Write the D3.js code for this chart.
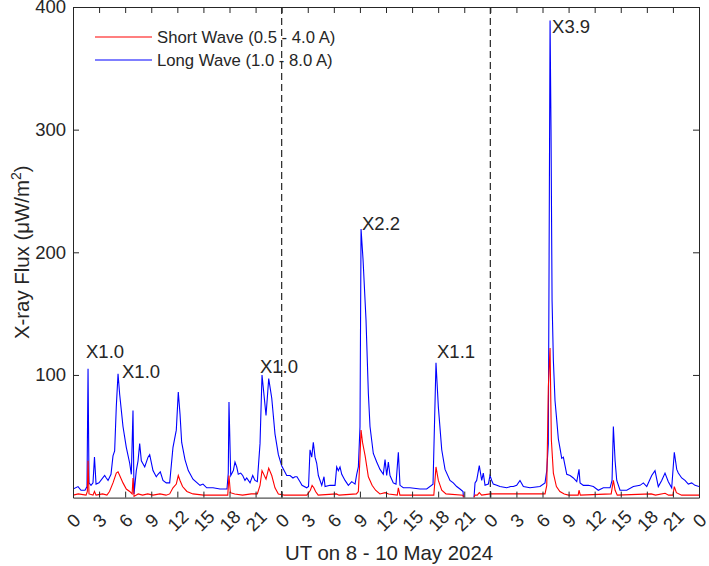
<!DOCTYPE html>
<html lang="en">
<head>
<meta charset="UTF-8">
<title>X-ray Flux, 8 - 10 May 2024</title>
<script src="https://d3js.org/d3.v7.min.js"></script>
<style>
  body { margin: 0; background: #fff; }
  svg text { font-family: "Liberation Sans", Arial, sans-serif; fill: #262626; }
</style>
</head>
<body>
<svg width="709" height="566"></svg>
<script>

// long wave channel (1.0 - 8.0 A), hours since 8 May 00 UT
const longHours = [
  0, 0.58, 0.92, 1.38, 1.61, 1.73, 1.84, 2.07, 2.30, 2.47,
  2.65, 2.99, 3.64, 3.83, 4.03, 4.37, 4.60, 4.79, 4.98, 5.18,
  5.37, 5.75, 6.13, 6.52, 6.71, 6.90, 7.02, 7.28, 7.48, 7.67,
  7.86, 8.25, 8.63, 8.82, 9.20, 9.58, 9.78, 10.04, 10.35, 10.73,
  11.12, 11.50, 11.88, 12.11, 12.31, 12.50, 12.88, 13.26, 13.80, 14.61,
  14.95, 15.38, 16.10, 16.91, 17.71, 17.86, 17.94, 18.14, 18.44, 18.63,
  18.83, 19.01, 19.29, 19.52, 19.78, 19.98, 20.36, 20.67, 20.93, 21.20,
  21.51, 21.74, 22.20, 22.51, 22.86, 23.23, 23.62, 24.00, 24.58, 24.96,
  25.30, 25.53, 25.76, 26.11, 26.34, 26.88, 27.09, 27.26, 27.46, 27.64,
  27.84, 28.03, 28.22, 28.61, 28.87, 28.99, 29.56, 30.14, 30.33, 30.52,
  30.71, 30.91, 31.29, 31.67, 32.06, 32.44, 32.63, 32.82, 33.01, 33.13,
  33.36, 33.70, 33.97, 34.16, 34.54, 34.93, 35.31, 35.69, 35.89, 36.08,
  36.27, 36.46, 36.84, 37.15, 37.42, 37.61, 37.99, 38.76, 39.91, 40.68,
  41.41, 41.75, 42.02, 42.41, 42.79, 43.36, 43.74, 44.13, 44.51, 44.86,
  44.91, 45.5, 46.12, 46.24, 46.43, 46.73, 47.01, 47.19, 47.39, 47.77,
  47.96, 48.16, 48.34, 48.74, 49.11, 49.88, 50.34, 50.65, 51.03, 51.41,
  51.80, 52.56, 53.71, 54.29, 54.49, 54.67, 54.79, 54.87, 54.98, 55.10,
  55.25, 55.44, 55.64, 55.82, 56.02, 56.21, 56.40, 56.59, 56.79, 57.17,
  57.55, 57.94, 58.20, 58.32, 58.70, 59.27, 59.85, 60.42, 61.00, 61.77,
  62.00, 62.15, 62.35, 62.54, 62.92, 63.69, 64.45, 65.22, 65.60, 65.99,
  66.56, 66.94, 67.32, 67.71, 68.09, 68.47, 68.86, 69.16, 69.44, 69.62,
  70.01, 70.39, 70.77, 71.16, 71.54, 72
];
const longFlux = [
  7, 9, 6, 6, 9, 105, 12, 10, 12, 33,
  11, 12, 18, 16, 14, 19, 34, 38, 74, 101,
  84, 58, 41, 28, 19, 71, 3, 22, 30, 44,
  30, 25, 33, 35, 22, 17, 19, 21, 14, 12,
  12, 41, 55, 86, 68, 45, 31, 22, 15, 10,
  11, 8, 8, 7, 7, 20, 78, 18, 22, 29,
  25, 19, 20, 18, 14, 16, 12, 18, 14, 13,
  44, 100, 67, 97, 81, 52, 35, 26, 18, 18,
  16, 17, 17, 13, 10, 8, 9, 39, 33, 45,
  33, 28, 18, 10, 17, 9, 10, 10, 25, 22,
  25, 19, 14, 10, 13, 11, 19, 25, 58, 219,
  194, 145, 85, 58, 36, 29, 23, 19, 31, 18,
  29, 18, 12, 11, 37, 10, 8, 8, 7, 7,
  11, 110, 74, 39, 23, 14, 12, 9, 7, 5,
  0, null, 0, 12, 14, 26, 14, 20, 10, 11,
  18, 14, 11, 10, 9, 8, 9, 9, 10, 14,
  9, 8, 9, 12, 22, 44, 250, 389, 300, 161,
  112, 79, 63, 48, 40, 32, 33, 26, 19, 18,
  16, 13, 23, 12, 10, 10, 9, 6, 8, 8,
  14, 58, 30, 14, 6, 6, 9, 10, 12, 9,
  18, 22, 9, 14, 20, 13, 8, 37, 23, 20,
  16, 14, 11, 12, 10, 9
];

// short wave channel (0.5 - 4.0 A)
const shortHours = [
  0, 0.6, 1.5, 1.65, 1.73, 1.84, 2.3, 2.47, 2.65, 3.4,
  3.9, 4.2, 4.6, 4.98, 5.18, 5.37, 5.75, 6.13, 6.52, 6.8,
  6.9, 7.02, 7.5, 8.0, 8.6, 9.2, 10.0, 10.7, 11.12, 11.5,
  11.88, 12.11, 12.31, 12.6, 13.1, 13.8, 15.0, 17.8, 17.94, 18.1,
  18.6, 19.5, 20.5, 21.2, 21.51, 21.74, 22.2, 22.51, 22.86, 23.23,
  23.62, 24.3, 26.9, 27.3, 27.5, 27.7, 27.9, 28.2, 30.3, 30.6,
  32.6, 32.82, 33.0, 33.13, 33.3, 33.6, 33.97, 34.4, 34.8, 35.3,
  35.9, 36.3, 37.3, 37.42, 37.6, 41.5, 41.75, 42.02, 42.41, 42.9,
  44.86, 44.91, 45.5, 46.12, 46.24, 46.5, 46.73, 47.0, 48.0, 54.29,
  54.49, 54.67, 54.87, 55.02, 55.25, 55.6, 56.0, 56.5, 57.0, 58.1,
  58.2, 58.35, 61.9, 62.15, 62.35, 62.6, 66.5, 67.0, 68.1, 68.5,
  69.0, 69.16, 69.4, 70.0, 72
];
const shortFlux = [
  2, 3, 2, 5, 30, 3, 2, 5, 2, 3,
  2, 5, 12, 20, 21, 18, 12, 7, 5, 3,
  16, 1, 3, 2, 3, 2, 3, 2, 3, 8,
  11, 18, 14, 9, 5, 3, 2, 2, 18, 4,
  3, 2, 3, 3, 10, 22, 15, 24, 18, 8,
  3, 2, 2, 6, 10, 8, 5, 2, 3, 2,
  3, 5, 31, 55, 45, 34, 17, 10, 6, 3,
  4, 3, 2, 8, 2, 2, 25, 14, 6, 3,
  2, 0, null, 0, 2, 2, 4, 2, 3, 3,
  10, 90, 122, 47, 20, 9, 5, 3, 2, 2,
  6, 2, 3, 14, 6, 2, 3, 2, 3.5, 2,
  2, 9, 4, 2, 2
];

const tickHours = d3.range(0, 73, 3);
const tickLabels = tickHours.map(h => String(h % 24));
const fluxTicks = [100, 200, 300, 400];
const dayBreaks = [24, 48];

// flare class labels, placed at (hour, flux) of the text start
const flareLabels = ["X1.0", "X1.0", "X1.0", "X2.2", "X1.1", "X3.9"];
const flareHours  = [1.5, 5.64, 21.5, 33.24, 41.87, 55.1];
const flareFlux   = [114, 97.4, 101.5, 218, 113.7, 378.6];

const seriesNames = ["Short Wave (0.5 - 4.0 A)", "Long Wave (1.0 - 8.0 A)"];
const seriesColors = ["#ff0000", "#0000ff"];

const svg = d3.select("svg");
const plotLeft = 73, plotRight = 699, plotTop = 7, plotBottom = 497.6;

const x = d3.scaleLinear().domain([0, 72]).range([plotLeft, plotRight]);
const y = d3.scaleLinear().domain([0, 400]).range([plotBottom, plotTop]);

// lines (clipped to axes)
svg.append("clipPath").attr("id", "clip")
  .append("rect").attr("x", plotLeft).attr("y", plotTop)
  .attr("width", plotRight - plotLeft).attr("height", plotBottom - plotTop);

const line = d3.line()
  .defined(d => d.v != null)
  .x(d => x(d.h))
  .y(d => y(d.v));

const longData = longHours.map((h, i) => ({ h: h, v: longFlux[i] }));
const shortData = shortHours.map((h, i) => ({ h: h, v: shortFlux[i] }));

const plot = svg.append("g").attr("clip-path", "url(#clip)");
plot.append("path").datum(longData)
  .attr("d", line).attr("fill", "none")
  .attr("stroke", seriesColors[1]).attr("stroke-width", 1.1);
plot.append("path").datum(shortData)
  .attr("d", line).attr("fill", "none")
  .attr("stroke", seriesColors[0]).attr("stroke-width", 1.1);

// day boundaries
svg.selectAll("line.day").data(dayBreaks).enter().append("line")
  .attr("class", "day")
  .attr("x1", d => x(d)).attr("x2", d => x(d))
  .attr("y1", plotTop).attr("y2", plotBottom)
  .attr("stroke", "#262626").attr("stroke-width", 1.2)
  .attr("stroke-dasharray", "7,4");

// axes, ticks pointing inward like matlab
const axisColor = "#262626";
function styleAxis(g) {
  g.selectAll("path, line").attr("stroke", axisColor);
  g.selectAll("text").attr("fill", axisColor);
}

const xAxis = svg.append("g")
  .attr("transform", `translate(0,${plotBottom})`)
  .call(d3.axisBottom(x).tickValues(tickHours).tickSizeInner(-6).tickSizeOuter(0)
    .tickFormat((d, i) => tickLabels[i]))
  .call(styleAxis);
xAxis.selectAll("text")
  .attr("font-size", 18.5)
  .attr("text-anchor", "middle")
  .attr("dominant-baseline", "central")
  .attr("y", 0).attr("dy", null)
  .attr("transform", "translate(0,23) rotate(-45)");

svg.append("g")
  .attr("transform", `translate(0,${plotTop})`)
  .call(d3.axisTop(x).tickValues(tickHours).tickSizeInner(-6).tickSizeOuter(0).tickFormat(""))
  .call(styleAxis);

svg.append("g")
  .attr("transform", `translate(${plotLeft},0)`)
  .call(d3.axisLeft(y).tickValues(fluxTicks).tickSizeInner(-6).tickSizeOuter(0).tickPadding(7))
  .call(styleAxis)
  .selectAll("text").attr("font-size", 18.5);

svg.append("g")
  .attr("transform", `translate(${plotRight},0)`)
  .call(d3.axisRight(y).tickValues(fluxTicks).tickSizeInner(-6).tickSizeOuter(0).tickFormat(""))
  .call(styleAxis);

svg.selectAll(".domain").attr("stroke-width", 1);

// axis labels
svg.append("text")
  .attr("x", (plotLeft + plotRight) / 2 + 3).attr("y", 560)
  .attr("text-anchor", "middle").attr("font-size", 20.4)
  .text("UT on 8 - 10 May 2024");

const ylab = svg.append("text")
  .attr("transform", `translate(29,${(plotTop + plotBottom) / 2}) rotate(-90)`)
  .attr("text-anchor", "middle").attr("font-size", 20.4);
ylab.append("tspan").text("X-ray Flux (\u03bcW/m");
ylab.append("tspan").attr("dy", -8).attr("font-size", 14).text("2");
ylab.append("tspan").attr("dy", 8).text(")");

// flare labels
svg.selectAll("text.flare").data(flareLabels).enter().append("text")
  .attr("class", "flare")
  .attr("x", (d, i) => x(flareHours[i]))
  .attr("y", (d, i) => y(flareFlux[i]))
  .attr("font-size", 18.5)
  .attr("fill", "#000")
  .text(d => d);

// legend
const legend = svg.append("g").attr("transform", "translate(95,37)");
seriesNames.forEach((name, i) => {
  legend.append("line")
    .attr("x1", 0).attr("x2", 57)
    .attr("y1", i * 23).attr("y2", i * 23)
    .attr("stroke", seriesColors[i]).attr("stroke-width", 1.1);
  legend.append("text")
    .attr("x", 62).attr("y", i * 23)
    .attr("dominant-baseline", "central")
    .attr("font-size", 16.7)
    .text(name);
});

</script>
</body>
</html>
